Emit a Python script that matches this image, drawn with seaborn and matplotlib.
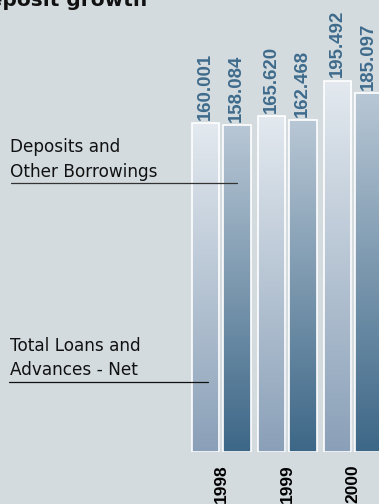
import numpy as np
import pandas as pd
import matplotlib
matplotlib.use("Agg")
import matplotlib.pyplot as plt
from matplotlib.lines import Line2D
import seaborn as sns

# ---- data ----
years = ["1998", "1999", "2000"]
series_names = ["Total Loans and Advances - Net", "Deposits and Other Borrowings"]
loans = [160.001, 165.620, 195.492]
deposits = [158.084, 162.468, 185.097]
title = "Deposit growth"

# ---- styles ----
BG = "#d3dbdf"
grad_top = {series_names[0]: "#e3e9ef", series_names[1]: "#b8c7d5"}
grad_bot = {series_names[0]: "#8aa0b8", series_names[1]: "#3d6787"}
LABEL_C = "#3f6b8c"
W, H = 379, 504
BASE = -115.6
TOP = 263.3

df = pd.DataFrame({
    "year": years * 2,
    "series": [series_names[0]] * 3 + [series_names[1]] * 3,
    "value": loans + deposits,
})

sns.set_theme(style="white")
plt.rcParams["font.family"] = ["DejaVu Sans"]

fig = plt.figure(figsize=(W / 100, H / 100), dpi=100, facecolor=BG)
ax = fig.add_axes([0, (H - 451.7) / H, 1, 451.7 / H])
ax.set_facecolor(BG)

sns.barplot(data=df, x="year", y="value", hue="series", hue_order=series_names,
            order=years, width=0.94, gap=0.11, palette=[grad_bot[s] for s in series_names],
            legend=False, ax=ax, edgecolor="white", linewidth=1.2)

num_font = dict(family=["Liberation Sans", "DejaVu Sans"], fontweight="bold")

series_vals = [loans, deposits]
for ci, cont in enumerate(ax.containers):
    s = series_names[ci]
    c_top = np.array(matplotlib.colors.to_rgb(grad_top[s]))
    c_bot = np.array(matplotlib.colors.to_rgb(grad_bot[s]))
    t = np.linspace(0, 1, 256)[:, None]
    grad = (c_top[None, :] * (1 - t) + c_bot[None, :] * t)[:, None, :]
    for j, p in enumerate(cont.patches):
        v = series_vals[ci][j]
        p.set_y(BASE)
        p.set_height(v - BASE)
        x0 = p.get_x()
        x1 = x0 + p.get_width()
        im = ax.imshow(grad, extent=[x0, x1, BASE, v], aspect="auto",
                       interpolation="bilinear", zorder=1.5)
        im.set_clip_path(p)
        p.set_facecolor("none")
        p.set_zorder(2)
        ax.annotate(f"{v:.3f}", xy=((x0 + x1) / 2, v), xytext=(0, 2.6),
                    textcoords="offset points", rotation=90, ha="center", va="bottom",
                    color=LABEL_C, fontsize=13.4, **num_font)

x_center0 = 221.2
step = 66.0
ax.set_xlim(-x_center0 / step, (W - x_center0) / step)
ax.set_ylim(BASE, TOP)
for sp in ax.spines.values():
    sp.set_visible(False)
ax.set_yticks([])
ax.set_xlabel("")
ax.set_ylabel("")
ax.tick_params(axis="x", length=0, pad=9.0)
for lab in ax.get_xticklabels():
    lab.set_rotation(90)
    lab.set_fontsize(12.5)
    lab.set_fontfamily(num_font["family"])
    lab.set_fontweight("bold")
    lab.set_color("black")

# ---- annotations in pixel coordinates ----
def fx(px):
    return px / W

def fy(py):
    return 1 - py / H

fig.text(fx(147), fy(5.5), title, ha="right", va="baseline", fontsize=14.5,
         fontweight="bold", color="#111111")

fig.text(fx(10), fy(152.3), "Deposits and", ha="left", va="baseline", fontsize=12.2, color="#111111")
fig.text(fx(10), fy(176.7), "Other Borrowings", ha="left", va="baseline", fontsize=12.2, color="#111111")
fig.add_artist(Line2D([fx(10.5), fx(236.7)], [fy(182.7), fy(182.7)], color="#333333", lw=0.9,
                      transform=fig.transFigure, zorder=5))

fig.text(fx(9.5), fy(351), "Total Loans and", ha="left", va="baseline", fontsize=12.2, color="#111111")
fig.text(fx(9.5), fy(375), "Advances - Net", ha="left", va="baseline", fontsize=12.2, color="#111111")
fig.add_artist(Line2D([fx(9.3), fx(207.7)], [fy(382.3), fy(382.3)], color="#111111", lw=0.9,
                      transform=fig.transFigure, zorder=5))

fig.savefig("out.png", dpi=100, facecolor=BG)
